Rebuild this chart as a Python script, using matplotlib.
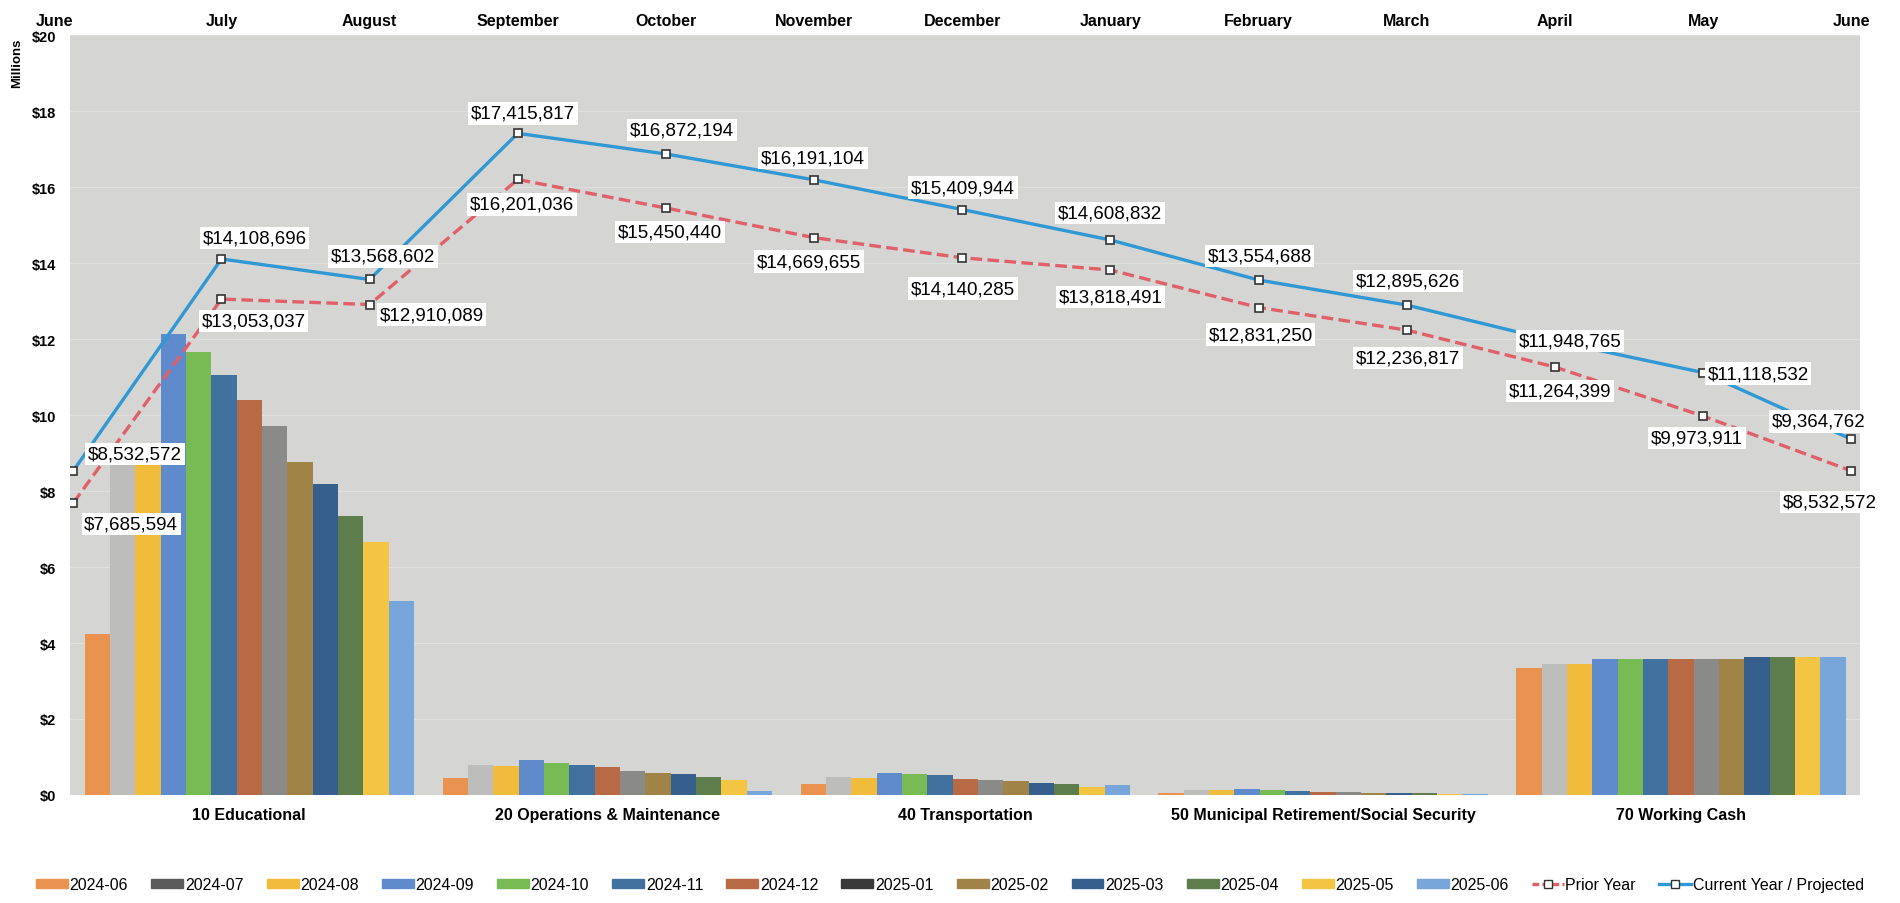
import matplotlib
matplotlib.use("Agg")
import matplotlib.pyplot as plt
import numpy as np
from matplotlib.patches import Patch
from matplotlib.lines import Line2D

# fund balances by fund, one bar per month-end (millions)
funds = ["10 Educational", "20 Operations & Maintenance", "40 Transportation",
         "50 Municipal Retirement/Social Security", "70 Working Cash"]
periods = ["2024-06", "2024-07", "2024-08", "2024-09", "2024-10", "2024-11", "2024-12",
           "2025-01", "2025-02", "2025-03", "2025-04", "2025-05", "2025-06"]

educational = [4.25, 8.70, 8.71, 12.13, 11.65, 11.05, 10.40, 9.72, 8.76, 8.19, 7.34, 6.67, 5.11]
operations = [0.45, 0.79, 0.77, 0.92, 0.84, 0.79, 0.73, 0.64, 0.58, 0.54, 0.48, 0.39, 0.11]
transportation = [0.30, 0.47, 0.44, 0.59, 0.56, 0.52, 0.41, 0.40, 0.38, 0.31, 0.29, 0.20, 0.26]
municipal = [0.06, 0.13, 0.13, 0.16, 0.13, 0.11, 0.08, 0.07, 0.06, 0.04, 0.04, 0.03, 0.02]
working_cash = [3.35, 3.46, 3.46, 3.57, 3.57, 3.57, 3.58, 3.58, 3.59, 3.62, 3.62, 3.64, 3.64]

# total balance, month by month (dollars)
months = ["June", "July", "August", "September", "October", "November", "December",
          "January", "February", "March", "April", "May", "June"]
prior_year = [7685594, 13053037, 12910089, 16201036, 15450440, 14669655, 14140285,
              13818491, 12831250, 12236817, 11264399, 9973911, 8532572]
current_year = [8532572, 14108696, 13568602, 17415817, 16872194, 16191104, 15409944,
                14608832, 13554688, 12895626, 11948765, 11118532, 9364762]

bar_colors = ["#ea9350", "#bdbdbb", "#f1bb3c", "#5f8acb", "#78bb55", "#41729f", "#b76a43",
              "#8a8a88", "#a08447", "#365f8e", "#5d7e4c", "#f4c443", "#78a6da"]
# swatches in the key print darker than the bars for the two greys
key_colors = list(bar_colors)
key_colors[1] = "#5a5a5a"
key_colors[7] = "#3a3a3a"

BLUE = "#2f98d5"
RED = "#e0606a"
narrow = ["Liberation Sans Narrow", "Liberation Sans", "DejaVu Sans"]
plt.rcParams["font.family"] = ["Liberation Sans", "DejaVu Sans"]

fig = plt.figure(figsize=(19, 9.04), dpi=100)
ax = fig.add_axes([0.037, 0.1195, 0.942, 0.8405])
ax.set_facecolor("#d5d5d3")

values = np.array([educational, operations, transportation, municipal, working_cash])
x = np.arange(len(funds))
group = 0.92
w = group / len(periods)
for i, p in enumerate(periods):
    ax.bar(x - group / 2 + w * (i + 0.5), values[:, i], width=w, color=bar_colors[i], zorder=2)

ax.set_xlim(-0.5, len(funds) - 0.5)
ax.set_ylim(0, 20)
ax.set_yticks(np.arange(0, 21, 2))
ax.set_yticklabels([f"${v}" for v in range(0, 21, 2)], fontweight="bold", fontsize=10.5)
ax.set_xticks(x)
ax.set_xticklabels(funds, fontweight="bold", fontsize=11.5, family=narrow)
ax.tick_params(axis="both", length=0)
ax.tick_params(axis="x", pad=9)
ax.tick_params(axis="y", pad=10)
ax.grid(axis="y", color="white", alpha=0.25, linewidth=0.8, zorder=0)
for s in ax.spines.values():
    s.set_visible(False)
fig.text(0.009, 0.93, "Millions", rotation=90, fontsize=9.5, fontweight="bold",
         ha="center", va="center")

# monthly totals on a second x axis along the top
ax2 = ax.twiny()
mx = np.arange(len(months))
ax2.plot(mx, np.array(current_year) / 1e6, color=BLUE, lw=2.4, marker="s", ms=5.5,
         mfc="white", mec="#333333", mew=1.2, zorder=4)
ax2.plot(mx, np.array(prior_year) / 1e6, color=RED, lw=2.4, ls=(0, (3.5, 1.6)), marker="s",
         ms=5.5, mfc="white", mec="#333333", mew=1.2, zorder=3)
ax2.set_xlim(-0.02, 12.06)
ax2.set_xticks(mx)
ax2.set_xticklabels(months, fontsize=11.5, fontweight="bold")
ax2.get_xticklabels()[0].set_ha("right")
ax2.tick_params(axis="x", length=0, pad=5)
for s in ax2.spines.values():
    s.set_visible(False)

# label offsets in pixels (dx, dy)
cur_off = [(62, 17), (33, 21), (13, 23), (5, 20), (16, 24), (-1, 22), (1, 22),
           (0, 27), (1, 24), (1, 24), (15, 0), (55, -1), (-33, 18)]
pri_off = [(58, -21), (32, -22), (62, -10), (4, -25), (4, -24), (-5, -24), (1, -31),
           (0, -27), (2, -27), (1, -28), (5, -24), (-6, -22), (-21, -31)]
box = dict(boxstyle="square,pad=0.15", fc="white", ec="none")
for i in range(len(months)):
    ax2.annotate(f"${current_year[i]:,}", (i, current_year[i] / 1e6), xytext=cur_off[i],
                 textcoords="offset pixels", ha="center", va="center", fontsize=13.5,
                 bbox=box, zorder=6)
    ax2.annotate(f"${prior_year[i]:,}", (i, prior_year[i] / 1e6), xytext=pri_off[i],
                 textcoords="offset pixels", ha="center", va="center", fontsize=13.5,
                 bbox=box, zorder=6)

handles = [Patch(color=c, label=p) for c, p in zip(key_colors, periods)]
handles.append(Line2D([], [], color=RED, lw=2.4, ls=(0, (2, 1)), marker="s", ms=5.5,
                      mfc="white", mec="#333333", label="Prior Year"))
handles.append(Line2D([], [], color=BLUE, lw=2.4, marker="s", ms=5.5, mfc="white",
                      mec="#333333", label="Current Year / Projected"))
fig.legend(handles=handles, loc="center", bbox_to_anchor=(0.5, 0.02), ncol=15,
           frameon=False, handlelength=2.0, handleheight=0.5, handletextpad=0.1,
           columnspacing=1.45, prop={"family": narrow, "size": 11.5})

fig.savefig("out.png", dpi=100)
